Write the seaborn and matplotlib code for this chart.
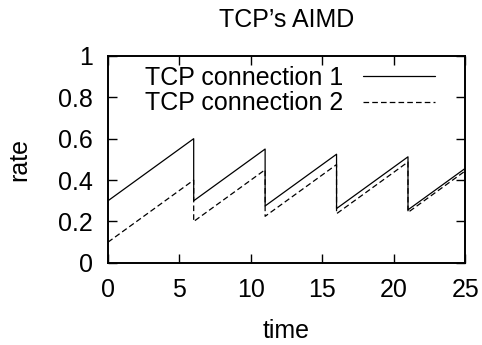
import matplotlib
matplotlib.use("Agg")
import matplotlib.pyplot as plt
import seaborn as sns
import pandas as pd

time = [0, 6, 6, 11, 11, 16, 16, 21, 21, 25]
rate_conn1 = [0.30, 0.60, 0.30, 0.55, 0.275, 0.525, 0.2625, 0.5125, 0.25625, 0.45625]
rate_conn2 = [0.10, 0.40, 0.20, 0.45, 0.225, 0.475, 0.2375, 0.4875, 0.24375, 0.44375]
labels = ["TCP connection 1", "TCP connection 2"]
xticks = [0, 5, 10, 15, 20, 25]
yticks = [0, 0.2, 0.4, 0.6, 0.8, 1]
ytick_labels = ["0", "0.2", "0.4", "0.6", "0.8", "1"]

df = pd.DataFrame({
    "time": time + time,
    "rate": rate_conn1 + rate_conn2,
    "conn": [labels[0]] * len(time) + [labels[1]] * len(time),
})

sns.set_style("ticks")
plt.rcParams['font.family'] = ['Liberation Sans', 'DejaVu Sans']
plt.rcParams['text.color'] = 'black'
plt.rcParams['axes.labelcolor'] = 'black'
plt.rcParams['xtick.color'] = 'black'
plt.rcParams['ytick.color'] = 'black'

FS = 18
fig = plt.figure(figsize=(4.82, 3.45), dpi=100)
ax = fig.add_axes([0.224, 0.238, 0.741, 0.6])

sns.lineplot(data=df, x="time", y="rate", style="conn", estimator=None, sort=False,
             color="black", linewidth=0.9, dashes={labels[0]: "", labels[1]: (4.5, 2.5)},
             ax=ax)

ax.set_xlim(0, 25)
ax.set_ylim(0, 1)
ax.set_xticks(xticks)
ax.set_yticks(yticks)
ax.set_yticklabels(ytick_labels)
ax.tick_params(direction="in", top=True, right=True, labelsize=FS, length=6.5, width=1,
               pad=11, colors="black", labelcolor="black")
for s in ax.spines.values():
    s.set_linewidth(1.4)
    s.set_color("black")
ax.set_xlabel("time", fontsize=FS, labelpad=12, color="black")
ax.set_ylabel("rate", fontsize=FS, labelpad=19, color="black")
ax.set_title("TCP\u2019s AIMD", fontsize=FS, pad=21, color="black")

leg = ax.legend(loc="upper right", bbox_to_anchor=(0.916, 0.95), frameon=False,
                markerfirst=False, fontsize=FS, handlelength=2.88, handletextpad=0.8,
                borderpad=0, borderaxespad=0, labelspacing=0.05, title=None)
for t in leg.get_texts():
    t.set_ha("right")
    t.set_color("black")

fig.savefig("out.png", dpi=100)
